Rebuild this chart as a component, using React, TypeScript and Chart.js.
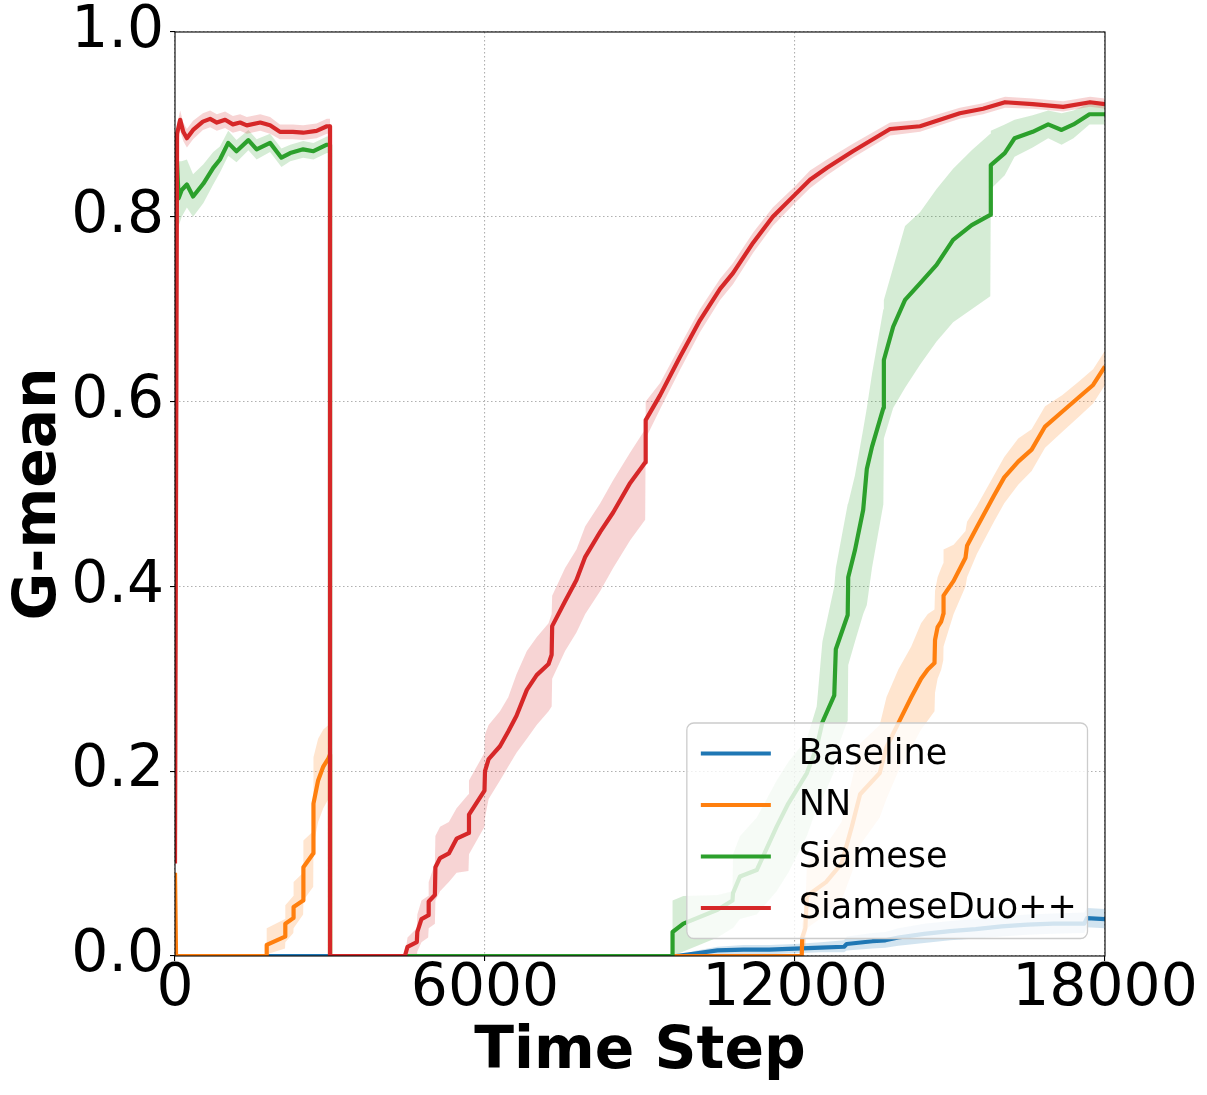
import React, { useEffect, useRef } from 'react';
import Chart from 'chart.js/auto';

// tick labels
const xTickValues = [0, 6000, 12000, 18000];
const yTickValues = [0, 0.2, 0.4, 0.6, 0.8, 1.0];

const seriesNames = ['Baseline', 'NN', 'Siamese', 'SiameseDuo++'];
const seriesColors = ['#1f77b4', '#ff7f0e', '#2ca02c', '#d62728'];
const bandColors = [
  'rgba(31,119,180,0.2)',
  'rgba(255,127,14,0.2)',
  'rgba(44,160,44,0.2)',
  'rgba(214,39,40,0.2)',
];

// Baseline
const baseT = [0, 9700, 10100, 10500, 11000, 11500, 12000, 12500, 12950, 13000, 13500, 13750, 14000, 14500, 15000, 15500, 16000, 16500, 17000, 17600, 17650, 18000];
const baseMean = [0, 0, 0.003, 0.006, 0.007, 0.007, 0.008, 0.009, 0.01, 0.013, 0.016, 0.017, 0.02, 0.024, 0.027, 0.029, 0.032, 0.034, 0.035, 0.035, 0.041, 0.04];
const baseLo = [0, 0, 0, 0.001, 0.002, 0.002, 0.003, 0.004, 0.004, 0.006, 0.008, 0.009, 0.011, 0.014, 0.017, 0.019, 0.021, 0.023, 0.024, 0.025, 0.031, 0.03];
const baseHi = [0, 0, 0.006, 0.01, 0.012, 0.012, 0.013, 0.015, 0.017, 0.021, 0.025, 0.026, 0.03, 0.035, 0.038, 0.04, 0.043, 0.045, 0.046, 0.047, 0.052, 0.051];

// NN
const nnT = [0, 20, 1770, 1775, 2130, 2135, 2290, 2295, 2480, 2485, 2675, 2680, 2770, 2870, 2970, 3000, 3001, 12130, 12140, 12200, 12230, 12600, 12900, 13100, 13260, 13640, 13770, 14000, 14250, 14440, 14570, 14700, 14710, 14760, 14830, 14870, 14875, 15070, 15300, 15330, 15520, 15850, 16050, 16320, 16580, 16840, 17170, 17500, 17770, 18000];
const nnMean = [0.09, 0, 0, 0.012, 0.021, 0.035, 0.041, 0.053, 0.06, 0.096, 0.111, 0.165, 0.19, 0.205, 0.214, 0.218, 0, 0, 0.02, 0.03, 0.065, 0.08, 0.1, 0.14, 0.175, 0.198, 0.226, 0.252, 0.28, 0.3, 0.31, 0.317, 0.342, 0.356, 0.362, 0.37, 0.39, 0.406, 0.431, 0.444, 0.464, 0.498, 0.518, 0.535, 0.548, 0.573, 0.589, 0.605, 0.618, 0.638];
const nnLo = [0.09, 0, 0, 0.002, 0.008, 0.015, 0.025, 0.03, 0.045, 0.06, 0.075, 0.12, 0.145, 0.16, 0.17, 0.17, 0, 0, 0.005, 0.01, 0.03, 0.045, 0.06, 0.09, 0.12, 0.15, 0.17, 0.2, 0.225, 0.245, 0.255, 0.265, 0.285, 0.3, 0.31, 0.32, 0.335, 0.37, 0.4, 0.41, 0.435, 0.47, 0.49, 0.51, 0.525, 0.55, 0.567, 0.584, 0.598, 0.618];
const nnHi = [0.09, 0, 0, 0.03, 0.04, 0.055, 0.065, 0.08, 0.09, 0.125, 0.135, 0.215, 0.235, 0.245, 0.25, 0.255, 0, 0, 0.035, 0.05, 0.1, 0.12, 0.145, 0.19, 0.23, 0.25, 0.28, 0.31, 0.335, 0.36, 0.37, 0.375, 0.395, 0.41, 0.42, 0.425, 0.44, 0.445, 0.46, 0.47, 0.487, 0.52, 0.54, 0.56, 0.57, 0.595, 0.607, 0.622, 0.635, 0.655];

// Siamese
const siaT = [0, 30, 70, 130, 230, 350, 550, 740, 870, 1030, 1190, 1420, 1580, 1840, 2060, 2230, 2480, 2680, 2940, 3000, 3001, 9620, 9630, 9840, 10500, 10790, 10800, 10935, 11260, 11645, 11870, 12230, 12420, 12530, 12760, 12790, 13020, 13030, 13160, 13320, 13390, 13490, 13710, 13720, 13900, 14130, 14420, 14740, 15060, 15420, 15780, 15790, 16060, 16250, 16600, 16900, 17160, 17390, 17700, 18000];
const siaMean = [0.75, 0.87, 0.82, 0.829, 0.835, 0.822, 0.836, 0.853, 0.862, 0.88, 0.871, 0.883, 0.873, 0.88, 0.864, 0.869, 0.873, 0.871, 0.878, 0.878, 0, 0, 0.026, 0.035, 0.05, 0.06, 0.068, 0.086, 0.093, 0.14, 0.165, 0.198, 0.226, 0.253, 0.282, 0.332, 0.369, 0.41, 0.439, 0.483, 0.527, 0.551, 0.593, 0.645, 0.681, 0.71, 0.728, 0.748, 0.775, 0.791, 0.802, 0.856, 0.869, 0.885, 0.892, 0.9, 0.894, 0.9, 0.911, 0.911];
const siaLo = [0.7, 0.84, 0.79, 0.8, 0.81, 0.8, 0.815, 0.835, 0.848, 0.866, 0.859, 0.872, 0.862, 0.87, 0.854, 0.86, 0.864, 0.862, 0.869, 0.869, 0, 0, 0, 0.005, 0.02, 0.03, 0.03, 0.04, 0.045, 0.07, 0.09, 0.13, 0.16, 0.17, 0.2, 0.22, 0.255, 0.315, 0.34, 0.37, 0.38, 0.42, 0.489, 0.56, 0.593, 0.615, 0.64, 0.665, 0.686, 0.7, 0.714, 0.83, 0.845, 0.865, 0.875, 0.885, 0.878, 0.885, 0.9, 0.9];
const siaHi = [0.8, 0.89, 0.86, 0.86, 0.862, 0.846, 0.857, 0.87, 0.876, 0.893, 0.883, 0.894, 0.884, 0.89, 0.874, 0.878, 0.882, 0.88, 0.887, 0.887, 0, 0, 0.06, 0.065, 0.066, 0.07, 0.11, 0.13, 0.15, 0.19, 0.21, 0.235, 0.27, 0.34, 0.4, 0.42, 0.489, 0.49, 0.52, 0.57, 0.593, 0.63, 0.7, 0.71, 0.745, 0.79, 0.805, 0.83, 0.852, 0.872, 0.89, 0.893, 0.9, 0.905, 0.91, 0.915, 0.912, 0.915, 0.923, 0.922];

// SiameseDuo++
const duoT = [0, 40, 100, 160, 230, 350, 540, 680, 810, 970, 1120, 1260, 1390, 1650, 1840, 2030, 2280, 2480, 2740, 2940, 3000, 3001, 4450, 4500, 4680, 4690, 4770, 4900, 4910, 5030, 5040, 5130, 5300, 5450, 5680, 5690, 5990, 6000, 6070, 6290, 6450, 6610, 6810, 7000, 7230, 7290, 7300, 7550, 7770, 7940, 8230, 8480, 8810, 9100, 9110, 9390, 9770, 10160, 10550, 10800, 11190, 11570, 12000, 12290, 12620, 13120, 13840, 14420, 15190, 15640, 16065, 16600, 17190, 17710, 18000];
const duoMean = [0.1, 0.89, 0.905, 0.892, 0.885, 0.894, 0.903, 0.906, 0.902, 0.905, 0.9, 0.902, 0.899, 0.902, 0.899, 0.892, 0.892, 0.891, 0.893, 0.898, 0.898, 0, 0, 0.01, 0.015, 0.026, 0.04, 0.044, 0.059, 0.066, 0.096, 0.106, 0.111, 0.127, 0.133, 0.153, 0.179, 0.2, 0.213, 0.227, 0.243, 0.26, 0.288, 0.304, 0.316, 0.326, 0.357, 0.384, 0.407, 0.432, 0.459, 0.48, 0.512, 0.534, 0.58, 0.607, 0.648, 0.688, 0.722, 0.739, 0.772, 0.8, 0.824, 0.84, 0.853, 0.871, 0.895, 0.898, 0.912, 0.917, 0.924, 0.922, 0.919, 0.924, 0.922];
const duoLo = [0.1, 0.875, 0.893, 0.882, 0.875, 0.884, 0.894, 0.897, 0.893, 0.896, 0.891, 0.893, 0.89, 0.893, 0.89, 0.884, 0.884, 0.883, 0.885, 0.89, 0.89, 0, 0, 0, 0, 0.005, 0.015, 0.02, 0.03, 0.035, 0.06, 0.07, 0.08, 0.09, 0.092, 0.11, 0.14, 0.15, 0.17, 0.19, 0.205, 0.22, 0.235, 0.25, 0.265, 0.27, 0.3, 0.33, 0.35, 0.37, 0.395, 0.42, 0.45, 0.472, 0.56, 0.592, 0.634, 0.675, 0.71, 0.727, 0.761, 0.79, 0.815, 0.831, 0.845, 0.864, 0.888, 0.892, 0.906, 0.911, 0.918, 0.917, 0.914, 0.919, 0.917];
const duoHi = [0.1, 0.9, 0.915, 0.902, 0.895, 0.904, 0.912, 0.915, 0.911, 0.914, 0.909, 0.911, 0.908, 0.911, 0.908, 0.9, 0.9, 0.899, 0.901, 0.906, 0.906, 0, 0, 0.02, 0.03, 0.045, 0.06, 0.065, 0.08, 0.1, 0.13, 0.14, 0.145, 0.16, 0.175, 0.19, 0.22, 0.24, 0.25, 0.265, 0.28, 0.305, 0.33, 0.345, 0.36, 0.37, 0.39, 0.42, 0.44, 0.465, 0.49, 0.515, 0.545, 0.57, 0.6, 0.62, 0.66, 0.7, 0.733, 0.75, 0.783, 0.81, 0.833, 0.85, 0.862, 0.879, 0.902, 0.905, 0.918, 0.923, 0.93, 0.928, 0.925, 0.93, 0.928];

const FONT = 'DejaVu Sans';
const BIG = 58.3;

const toPoints = (xs: number[], ys: number[]) => xs.map((x, i) => ({ x, y: ys[i] }));

// black box round the plot area, over the lines like matplotlib spines
const framePlugin = {
  id: 'frame',
  afterDatasetsDraw(chart: any) {
    const { ctx, chartArea } = chart;
    ctx.save();
    ctx.strokeStyle = '#000';
    ctx.lineWidth = 1.1;
    ctx.strokeRect(chartArea.left, chartArea.top, chartArea.right - chartArea.left, chartArea.bottom - chartArea.top);
    ctx.restore();
  },
};

// lower-right legend with translucent box
const legendPlugin = {
  id: 'boxLegend',
  afterDraw(chart: any) {
    const { ctx, chartArea } = chart;
    const fs = 35;
    const borderPad = 0.4 * fs;
    const handleLen = 2 * fs;
    const textPad = 0.8 * fs;
    const rowH = 51.5;
    const textH = 33;
    ctx.save();
    ctx.font = `${fs}px "${FONT}"`;
    // glyph extent, not advance, so the right margin matches
    const maxW = Math.max(...seriesNames.map((n) => ctx.measureText(n).actualBoundingBoxRight));
    const w = borderPad * 2 + handleLen + textPad + maxW;
    const h = borderPad * 2 + textH + rowH * (seriesNames.length - 1);
    const right = chartArea.right - 0.5 * fs;
    const bottom = chartArea.bottom - 0.5 * fs;
    const left = right - w;
    const top = bottom - h;
    ctx.beginPath();
    ctx.roundRect(left, top, w, h, 7);
    ctx.fillStyle = 'rgba(255,255,255,0.8)';
    ctx.fill();
    ctx.strokeStyle = '#cccccc';
    ctx.lineWidth = 1.3;
    ctx.stroke();
    seriesNames.forEach((name, i) => {
      const cy = top + borderPad + textH / 2 + i * rowH;
      ctx.strokeStyle = seriesColors[i];
      ctx.lineWidth = 4.2;
      ctx.beginPath();
      ctx.moveTo(left + borderPad, cy);
      ctx.lineTo(left + borderPad + handleLen, cy);
      ctx.stroke();
      ctx.fillStyle = '#000';
      ctx.textBaseline = 'middle';
      ctx.textAlign = 'left';
      ctx.fillText(name, left + borderPad + handleLen + textPad, cy + 1);
    });
    ctx.restore();
  },
};

const GMeanChart = () => {
  const chartRef = useRef<HTMLCanvasElement>(null);
  const chartInstance = useRef<Chart | null>(null);

  useEffect(() => {
    if (chartInstance.current) {
      chartInstance.current.destroy();
    }
    const ctx = chartRef.current?.getContext('2d');
    if (!ctx) return;

    const series = [
      { t: baseT, mean: baseMean, lo: baseLo, hi: baseHi },
      { t: nnT, mean: nnMean, lo: nnLo, hi: nnHi },
      { t: siaT, mean: siaMean, lo: siaLo, hi: siaHi },
      { t: duoT, mean: duoMean, lo: duoLo, hi: duoHi },
    ];

    const datasets: any[] = [];
    // bands first (all under the lines)
    series.forEach((s, i) => {
      datasets.push({
        label: seriesNames[i] + ' lo',
        data: toPoints(s.t, s.lo),
        borderWidth: 0,
        borderColor: 'transparent',
        pointRadius: 0,
        fill: false,
        order: 8 - i,
      });
      datasets.push({
        label: seriesNames[i] + ' hi',
        data: toPoints(s.t, s.hi),
        borderWidth: 0,
        borderColor: 'transparent',
        backgroundColor: bandColors[i],
        pointRadius: 0,
        fill: '-1',
        order: 8 - i,
      });
    });
    series.forEach((s, i) => {
      datasets.push({
        label: seriesNames[i],
        data: toPoints(s.t, s.mean),
        borderColor: seriesColors[i],
        borderWidth: 4.2,
        borderJoinStyle: 'round',
        pointRadius: 0,
        fill: false,
        order: 4 - i,
      });
    });

    chartInstance.current = new Chart(ctx, {
      type: 'line',
      data: { datasets },
      options: {
        animation: false,
        responsive: false,
        events: [],
        layout: { padding: { top: 32, right: 102, left: 0, bottom: 0 } },
        plugins: {
          legend: { display: false },
          tooltip: { enabled: false },
        },
        scales: {
          x: {
            type: 'linear',
            min: 0,
            max: 18000,
            afterBuildTicks: (axis: any) => {
              axis.ticks = xTickValues.map((value) => ({ value }));
            },
            afterFit: (axis: any) => {
              axis.height = 139;
              axis.paddingLeft = 0;
              axis.paddingRight = 0;
            },
            ticks: {
              autoSkip: false,
              maxRotation: 0,
              padding: 0,
              color: '#000',
              font: { family: FONT, size: BIG, lineHeight: 1 },
              callback: (v: any) => String(v),
            },
            grid: { color: '#b0b0b0', lineWidth: 1.1, tickLength: 5, tickColor: '#000', tickWidth: 1.1 },
            border: { display: false, dash: [1.5, 2.5] },
            title: {
              display: true,
              text: 'Time Step',
              color: '#000',
              font: { family: FONT, size: BIG, weight: 'bold' },
              padding: { top: 0, bottom: 7 },
            },
          },
          y: {
            type: 'linear',
            min: 0,
            max: 1,
            afterBuildTicks: (axis: any) => {
              axis.ticks = yTickValues.map((value) => ({ value }));
            },
            afterFit: (axis: any) => {
              axis.width = 175;
              axis.paddingTop = 0;
              axis.paddingBottom = 0;
            },
            ticks: {
              padding: 6,
              color: '#000',
              font: { family: FONT, size: BIG },
              callback: (v: any) => Number(v).toFixed(1),
            },
            grid: { color: '#b0b0b0', lineWidth: 1.1, tickLength: 5, tickColor: '#000', tickWidth: 1.1 },
            border: { display: false, dash: [1.5, 2.5] },
            title: {
              display: true,
              text: 'G-mean',
              color: '#000',
              font: { family: FONT, size: BIG, weight: 'bold' },
              padding: { top: 5, bottom: 0 },
            },
          },
        },
      },
      plugins: [framePlugin, legendPlugin],
    });

    return () => {
      if (chartInstance.current) {
        chartInstance.current.destroy();
        chartInstance.current = null;
      }
    };
  }, []);

  return (
    <div style={{ position: 'absolute', left: 0, top: 0, width: 1207, height: 1095, background: '#fff' }}>
      <canvas ref={chartRef} width={1207} height={1095} style={{ display: 'block' }} />
    </div>
  );
};

export default function App() {
  return <GMeanChart />;
}
